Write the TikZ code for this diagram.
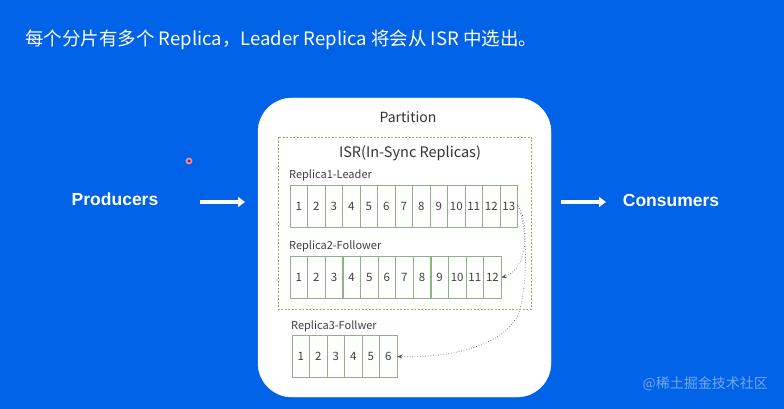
\documentclass[tikz,border=0pt]{standalone}
\usepackage{fontspec}
\setmainfont{Liberation Sans}
\newfontfamily\cjk{Noto Sans CJK SC}
\usetikzlibrary{arrows.meta}
\definecolor{bgblue}{RGB}{0,98,230}
\definecolor{cellgreen}{RGB}{140,180,130}
\definecolor{dashgreen}{RGB}{160,175,120}
\tikzset{
  cell/.style={draw=cellgreen, fill=white, line width=0.7pt, minimum width=17.5pt, minimum height=42pt, inner sep=0pt, font=\cjk\fontsize{11.5}{13}\selectfont, text=black!75},
  rlabel/.style={anchor=west, inner sep=0pt, font=\cjk\fontsize{11}{13}\selectfont, text=black!75},
  bigarrow/.style={white, line width=4pt, -{Triangle[length=7pt,width=10pt]}},
  syncarrow/.style={dotted, line width=0.6pt, -{Stealth[length=5pt,width=4pt]}, black!70},
  sidetext/.style={text=white, font=\fontsize{17.5}{20}\selectfont\bfseries},
}
\begin{document}
\begin{tikzpicture}[x=1pt,y=-1pt]
\useasboundingbox (0,0) rectangle (784,409);
\fill[bgblue] (0,0) rectangle (784,409);
% title
\node[anchor=west, inner sep=0pt, text=white, font=\cjk\fontsize{18.5}{21}\selectfont] (title) at (25,40) {每个分片有多个 Replica，Leader Replica 将会从 ISR 中选出。};
% partition box
\draw[white, fill=white, rounded corners=34pt] (258,98) rectangle (551,397);
\node[font=\cjk\fontsize{14}{16}\selectfont, text=black!80] (part) at (408,117) {Partition};
\draw[dashgreen, dash pattern=on 2pt off 1.5pt, line width=0.8pt] (278,137) rectangle (531,309);
\node[font=\cjk\fontsize{14.5}{17}\selectfont, text=black!80] (isr) at (410,153) {ISR(In-Sync Replicas)};
% replica 1
\node[rlabel] (r1lab) at (289,175) {Replica1-Leader};
\foreach \i in {1,...,13} {
  \node[cell] (L\i) at ({290+17.5*(\i-0.5)},206) {\i};
}
% replica 2
\node[rlabel] (r2lab) at (289,246) {Replica2-Follower};
\foreach \i in {1,...,12} {
  \node[cell] (F\i) at ({290+17.6*(\i-0.5)},277.5) {\i};
}
% replica 3
\node[rlabel] (r3lab) at (291,326) {Replica3-Follwer};
\foreach \i in {1,...,6} {
  \node[cell] (R\i) at ({292+17.5*(\i-0.5)},356.5) {\i};
}
% sync arrows
\draw[syncarrow] (L13.east) .. controls (527,215) and (532,268) .. (F12.east);
\draw[syncarrow] (L13.east) .. controls (528,225) and (528,290) .. (518,315) .. controls (500,350) and (440,358) .. (R6.east);
% producers / consumers
\node[sidetext] (prod) at (115,199) {Producers};
\coordinate (pa1) at (200,202);
\coordinate (pa2) at (245,202);
\draw[bigarrow] (pa1) -- (pa2);
\node[sidetext] (cons) at (671,200) {Consumers};
\coordinate (ca1) at (561,202);
\coordinate (ca2) at (606,202);
\draw[bigarrow] (ca1) -- (ca2);
% red dot
\fill[red!40!white, opacity=0.8] (189,161) circle (3.5pt);
\fill[red!80!black] (189,161) circle (1.5pt);
% watermark
\node[anchor=east, inner sep=0pt, text=white, opacity=0.45, font=\cjk\fontsize{14}{16}\selectfont] (wm) at (768,384) {@稀土掘金技术社区};
\end{tikzpicture}
\end{document}
